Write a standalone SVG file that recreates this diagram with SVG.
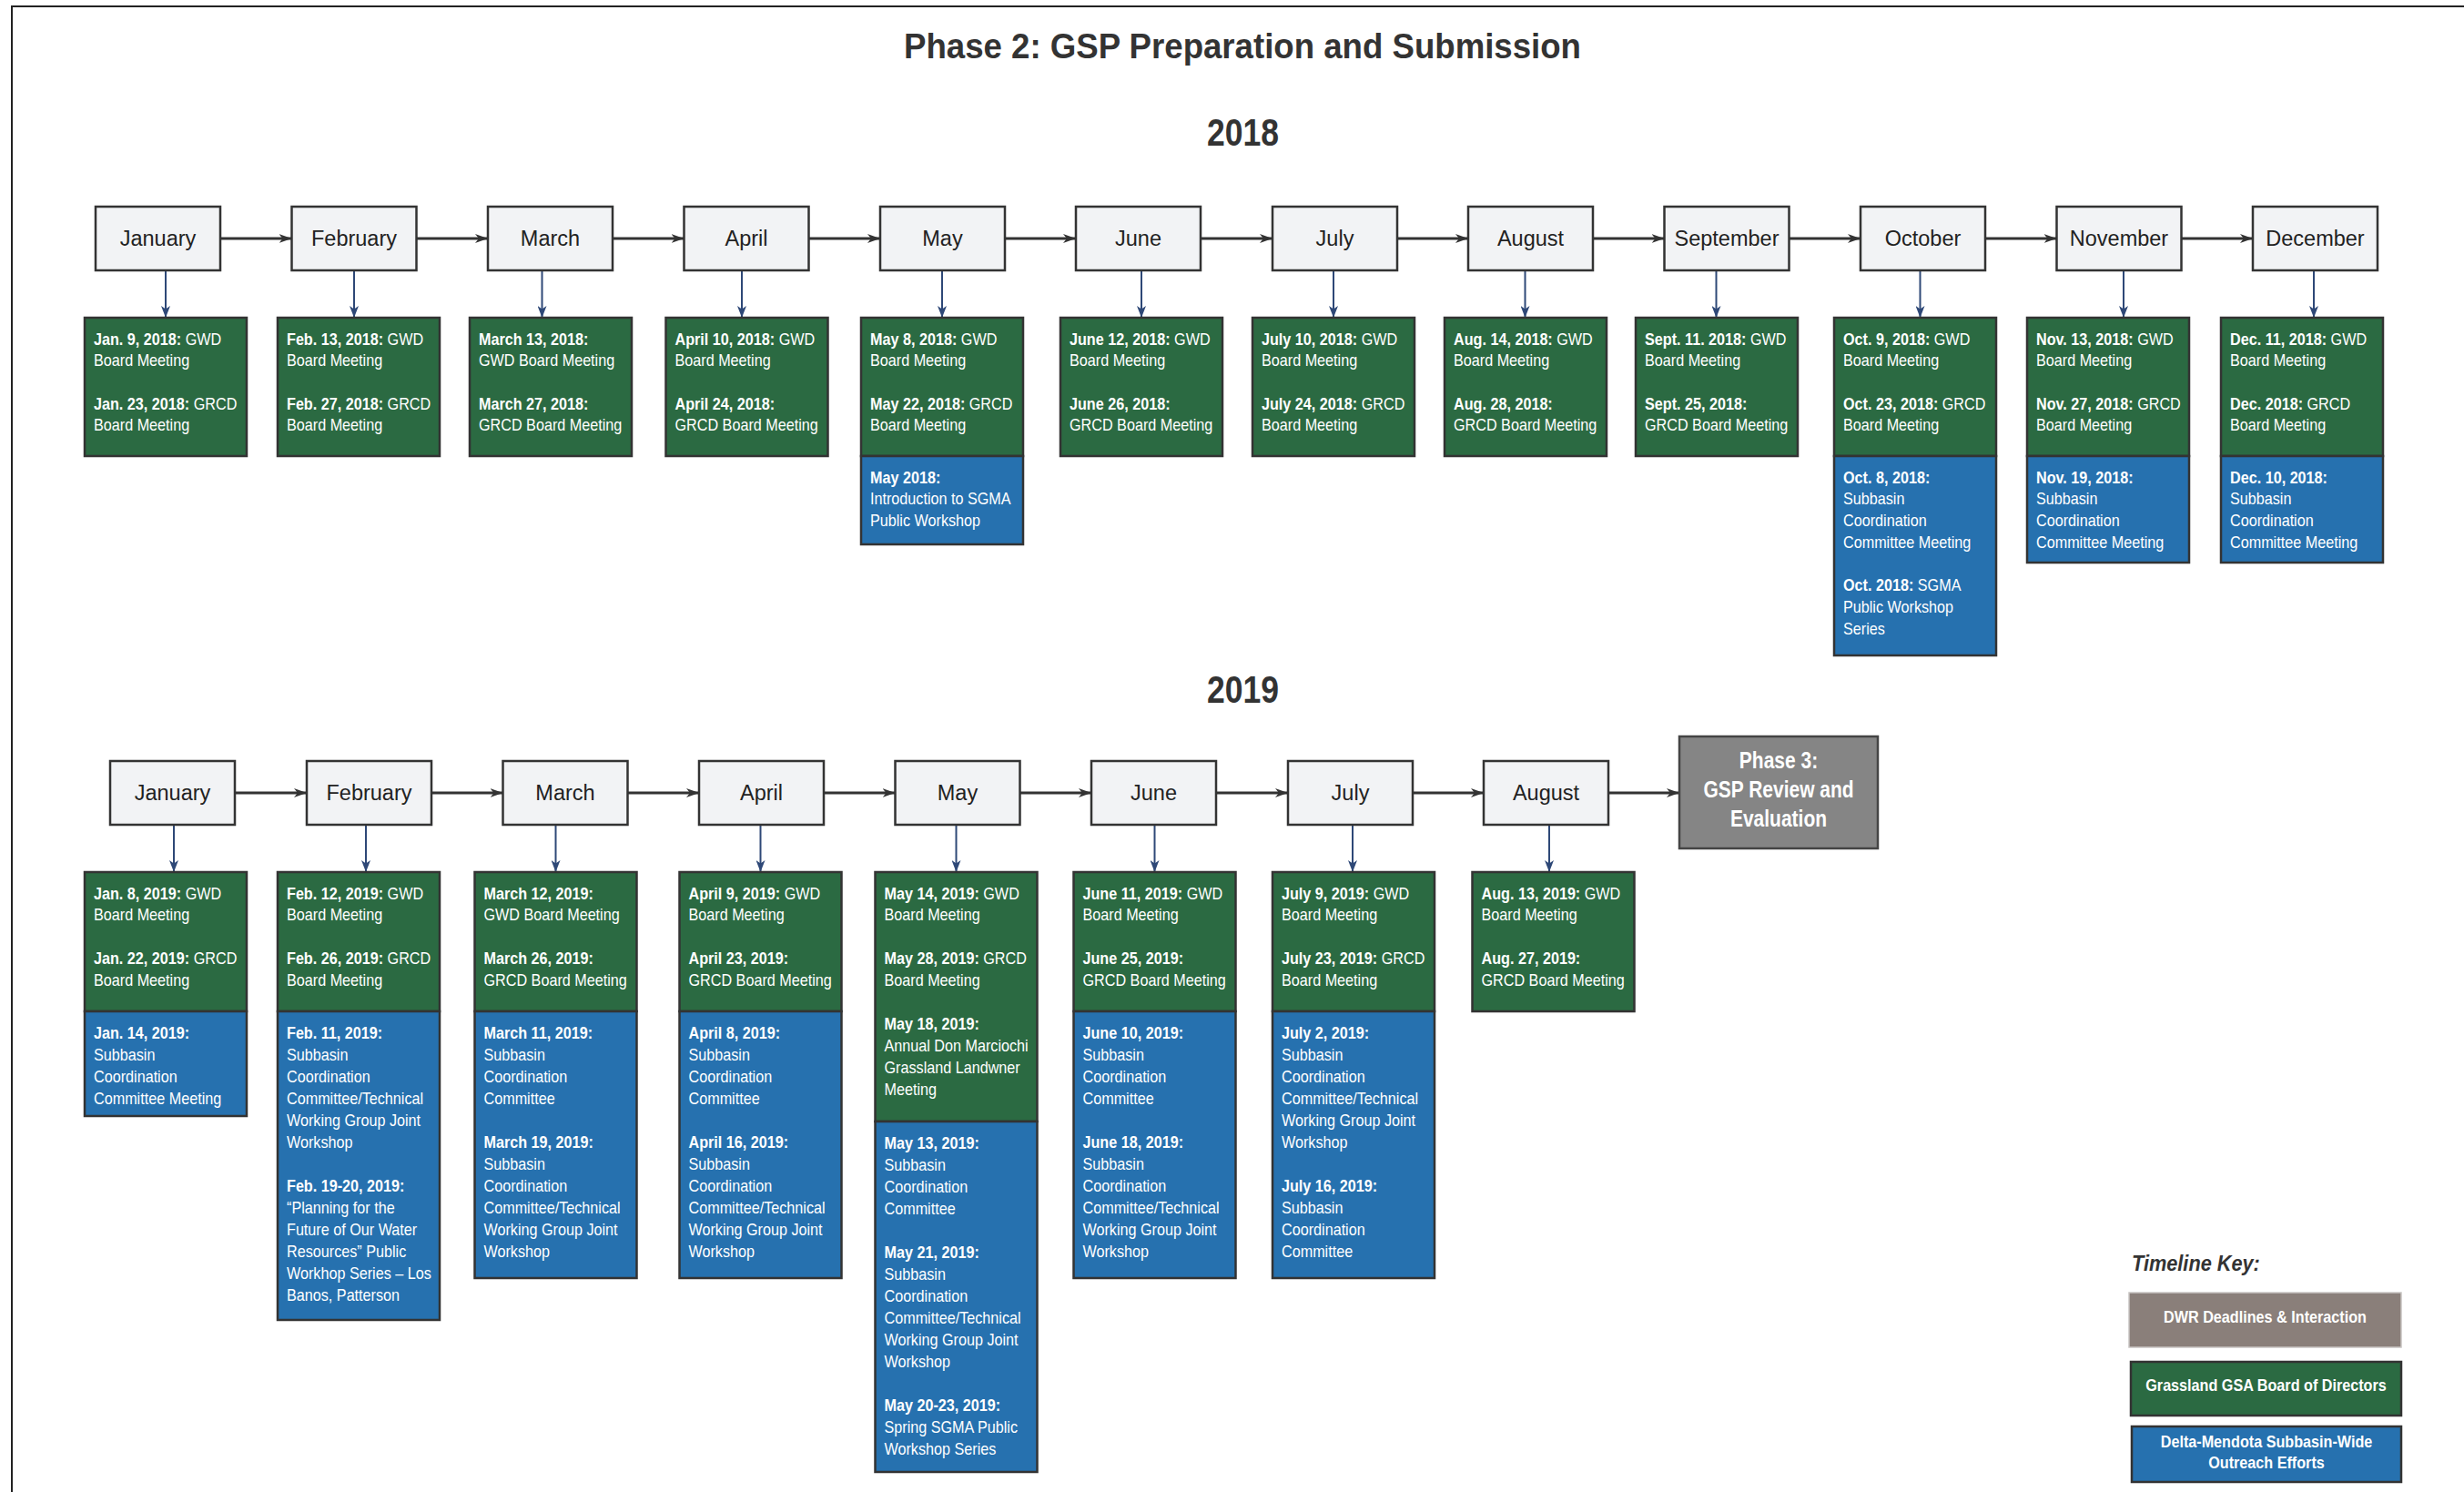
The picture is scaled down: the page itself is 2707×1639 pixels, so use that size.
<svg xmlns="http://www.w3.org/2000/svg" width="2707" height="1639" viewBox="0 0 2707 1639">
<defs>
<style>
.frame{stroke:#222;stroke-width:2;fill:none}
.mon rect{fill:#f2f3f5;stroke:#333;stroke-width:2.5}
.mon text{font-family:"Liberation Sans",Arial,sans-serif;font-size:23.5px;fill:#222;text-anchor:middle}
.g{fill:#2b6a42;stroke:#333;stroke-width:2.5}
.b{fill:#2671af;stroke:#333;stroke-width:2.5}
.bt{font-family:"Liberation Sans",Arial,sans-serif;font-size:18.6px;fill:#fff}
.bd{font-weight:bold}
.hc{stroke:#333;stroke-width:3;fill:none}
.vc{stroke:#2e4877;stroke-width:2;fill:none}
.head{font-family:"Liberation Sans",Arial,sans-serif;font-weight:bold;fill:#333}
.lg{font-family:"Liberation Sans",Arial,sans-serif;font-size:18.6px;font-weight:bold;fill:#fff;text-anchor:middle}
</style>
<marker id="ah" viewBox="0 0 14 10" refX="14" refY="5" markerWidth="14" markerHeight="10" markerUnits="userSpaceOnUse" orient="auto"><path d="M0,0 L14,5 L0,10 L4,5 Z" fill="#333"/></marker>
<marker id="av" viewBox="0 0 13 10" refX="13" refY="5" markerWidth="13" markerHeight="10" markerUnits="userSpaceOnUse" orient="auto"><path d="M0,0 L13,5 L0,10 L3.5,5 Z" fill="#2e4877"/></marker>
</defs>
<rect width="2707" height="1639" fill="#fff"/>
<path class="frame" d="M13,1639 V7 H2707"/>

<text class="head" x="993" y="64" style="font-size:38px" textLength="744" lengthAdjust="spacingAndGlyphs">Phase 2:  GSP Preparation and Submission</text>
<text class="head" x="1326" y="160" style="font-size:42px" textLength="79" lengthAdjust="spacingAndGlyphs">2018</text>
<text class="head" x="1326" y="772" style="font-size:42px" textLength="79" lengthAdjust="spacingAndGlyphs">2019</text>

<g id="connectors">
<line class="hc" x1="242" y1="262" x2="320.5" y2="262" marker-end="url(#ah)"/>
<line class="hc" x1="457.5" y1="262" x2="536" y2="262" marker-end="url(#ah)"/>
<line class="hc" x1="673" y1="262" x2="751.5" y2="262" marker-end="url(#ah)"/>
<line class="hc" x1="888.5" y1="262" x2="967" y2="262" marker-end="url(#ah)"/>
<line class="hc" x1="1104" y1="262" x2="1182" y2="262" marker-end="url(#ah)"/>
<line class="hc" x1="1319" y1="262" x2="1398" y2="262" marker-end="url(#ah)"/>
<line class="hc" x1="1535" y1="262" x2="1613" y2="262" marker-end="url(#ah)"/>
<line class="hc" x1="1750" y1="262" x2="1828.5" y2="262" marker-end="url(#ah)"/>
<line class="hc" x1="1965.5" y1="262" x2="2044" y2="262" marker-end="url(#ah)"/>
<line class="hc" x1="2181" y1="262" x2="2259.5" y2="262" marker-end="url(#ah)"/>
<line class="hc" x1="2396.5" y1="262" x2="2475" y2="262" marker-end="url(#ah)"/>

<line class="vc" x1="182" y1="297" x2="182" y2="349" marker-end="url(#av)"/>
<line class="vc" x1="389" y1="297" x2="389" y2="349" marker-end="url(#av)"/>
<line class="vc" x1="595.5" y1="297" x2="595.5" y2="349" marker-end="url(#av)"/>
<line class="vc" x1="815" y1="297" x2="815" y2="349" marker-end="url(#av)"/>
<line class="vc" x1="1035" y1="297" x2="1035" y2="349" marker-end="url(#av)"/>
<line class="vc" x1="1254" y1="297" x2="1254" y2="349" marker-end="url(#av)"/>
<line class="vc" x1="1465" y1="297" x2="1465" y2="349" marker-end="url(#av)"/>
<line class="vc" x1="1675.5" y1="297" x2="1675.5" y2="349" marker-end="url(#av)"/>
<line class="vc" x1="1885.5" y1="297" x2="1885.5" y2="349" marker-end="url(#av)"/>
<line class="vc" x1="2109.5" y1="297" x2="2109.5" y2="349" marker-end="url(#av)"/>
<line class="vc" x1="2333" y1="297" x2="2333" y2="349" marker-end="url(#av)"/>
<line class="vc" x1="2542" y1="297" x2="2542" y2="349" marker-end="url(#av)"/>

<line class="hc" x1="258" y1="871" x2="337" y2="871" marker-end="url(#ah)"/>
<line class="hc" x1="474" y1="871" x2="552.5" y2="871" marker-end="url(#ah)"/>
<line class="hc" x1="689.5" y1="871" x2="768" y2="871" marker-end="url(#ah)"/>
<line class="hc" x1="905" y1="871" x2="983.5" y2="871" marker-end="url(#ah)"/>
<line class="hc" x1="1120.5" y1="871" x2="1199" y2="871" marker-end="url(#ah)"/>
<line class="hc" x1="1336" y1="871" x2="1415" y2="871" marker-end="url(#ah)"/>
<line class="hc" x1="1552" y1="871" x2="1630" y2="871" marker-end="url(#ah)"/>
<line class="hc" x1="1767" y1="871" x2="1845" y2="871" marker-end="url(#ah)"/>

<line class="vc" x1="191" y1="906" x2="191" y2="958" marker-end="url(#av)"/>
<line class="vc" x1="402" y1="906" x2="402" y2="958" marker-end="url(#av)"/>
<line class="vc" x1="610.5" y1="906" x2="610.5" y2="958" marker-end="url(#av)"/>
<line class="vc" x1="835.5" y1="906" x2="835.5" y2="958" marker-end="url(#av)"/>
<line class="vc" x1="1050.5" y1="906" x2="1050.5" y2="958" marker-end="url(#av)"/>
<line class="vc" x1="1268.5" y1="906" x2="1268.5" y2="958" marker-end="url(#av)"/>
<line class="vc" x1="1486" y1="906" x2="1486" y2="958" marker-end="url(#av)"/>
<line class="vc" x1="1702" y1="906" x2="1702" y2="958" marker-end="url(#av)"/>
</g>

<!-- 2018 month boxes -->
<g id="m2018-jan" class="mon"><rect x="105" y="227" width="137" height="70"/><text x="173.5" y="270">January</text></g>
<g id="m2018-feb" class="mon"><rect x="320.5" y="227" width="137" height="70"/><text x="389" y="270">February</text></g>
<g id="m2018-mar" class="mon"><rect x="536" y="227" width="137" height="70"/><text x="604.5" y="270">March</text></g>
<g id="m2018-apr" class="mon"><rect x="751.5" y="227" width="137" height="70"/><text x="820" y="270">April</text></g>
<g id="m2018-may" class="mon"><rect x="967" y="227" width="137" height="70"/><text x="1035.5" y="270">May</text></g>
<g id="m2018-jun" class="mon"><rect x="1182" y="227" width="137" height="70"/><text x="1250.5" y="270">June</text></g>
<g id="m2018-jul" class="mon"><rect x="1398" y="227" width="137" height="70"/><text x="1466.5" y="270">July</text></g>
<g id="m2018-aug" class="mon"><rect x="1613" y="227" width="137" height="70"/><text x="1681.5" y="270">August</text></g>
<g id="m2018-sep" class="mon"><rect x="1828.5" y="227" width="137" height="70"/><text x="1897" y="270">September</text></g>
<g id="m2018-oct" class="mon"><rect x="2044" y="227" width="137" height="70"/><text x="2112.5" y="270">October</text></g>
<g id="m2018-nov" class="mon"><rect x="2259.5" y="227" width="137" height="70"/><text x="2328" y="270">November</text></g>
<g id="m2018-dec" class="mon"><rect x="2475" y="227" width="137" height="70"/><text x="2543.5" y="270">December</text></g>

<!-- 2018 event boxes -->
<g id="e2018-jan"><rect class="g" x="93" y="349" width="178" height="152"/>
<text class="bt" transform="translate(103 378.5) scale(0.87 1)"><tspan x="0" y="0"><tspan class="bd">Jan. 9, 2018:</tspan> GWD</tspan><tspan x="0" y="23.75">Board Meeting</tspan><tspan x="0" y="71.25"><tspan class="bd">Jan. 23, 2018:</tspan> GRCD</tspan><tspan x="0" y="95">Board Meeting</tspan></text></g>
<g id="e2018-feb"><rect class="g" x="305" y="349" width="178" height="152"/>
<text class="bt" transform="translate(315 378.5) scale(0.87 1)"><tspan x="0" y="0"><tspan class="bd">Feb. 13, 2018:</tspan> GWD</tspan><tspan x="0" y="23.75">Board Meeting</tspan><tspan x="0" y="71.25"><tspan class="bd">Feb. 27, 2018:</tspan> GRCD</tspan><tspan x="0" y="95">Board Meeting</tspan></text></g>
<g id="e2018-mar"><rect class="g" x="516" y="349" width="178" height="152"/>
<text class="bt" transform="translate(526 378.5) scale(0.87 1)"><tspan x="0" y="0" class="bd">March 13, 2018:</tspan><tspan x="0" y="23.75">GWD Board Meeting</tspan><tspan x="0" y="71.25" class="bd">March 27, 2018:</tspan><tspan x="0" y="95">GRCD Board Meeting</tspan></text></g>
<g id="e2018-apr"><rect class="g" x="731.5" y="349" width="178" height="152"/>
<text class="bt" transform="translate(741.5 378.5) scale(0.87 1)"><tspan x="0" y="0"><tspan class="bd">April 10, 2018:</tspan> GWD</tspan><tspan x="0" y="23.75">Board Meeting</tspan><tspan x="0" y="71.25" class="bd">April 24, 2018:</tspan><tspan x="0" y="95">GRCD Board Meeting</tspan></text></g>
<g id="e2018-may"><rect class="g" x="946" y="349" width="178" height="152"/>
<text class="bt" transform="translate(956 378.5) scale(0.87 1)"><tspan x="0" y="0"><tspan class="bd">May 8, 2018:</tspan> GWD</tspan><tspan x="0" y="23.75">Board Meeting</tspan><tspan x="0" y="71.25"><tspan class="bd">May 22, 2018:</tspan> GRCD</tspan><tspan x="0" y="95">Board Meeting</tspan></text>
<rect class="b" x="946" y="501" width="178" height="97"/>
<text class="bt" transform="translate(956 530.5) scale(0.87 1)"><tspan x="0" y="0" class="bd">May 2018:</tspan><tspan x="0" y="23.75">Introduction to SGMA</tspan><tspan x="0" y="47.5">Public Workshop</tspan></text></g>
<g id="e2018-jun"><rect class="g" x="1165" y="349" width="178" height="152"/>
<text class="bt" transform="translate(1175 378.5) scale(0.87 1)"><tspan x="0" y="0"><tspan class="bd">June 12, 2018:</tspan> GWD</tspan><tspan x="0" y="23.75">Board Meeting</tspan><tspan x="0" y="71.25" class="bd">June 26, 2018:</tspan><tspan x="0" y="95">GRCD Board Meeting</tspan></text></g>
<g id="e2018-jul"><rect class="g" x="1376" y="349" width="178" height="152"/>
<text class="bt" transform="translate(1386 378.5) scale(0.87 1)"><tspan x="0" y="0"><tspan class="bd">July 10, 2018:</tspan> GWD</tspan><tspan x="0" y="23.75">Board Meeting</tspan><tspan x="0" y="71.25"><tspan class="bd">July 24, 2018:</tspan> GRCD</tspan><tspan x="0" y="95">Board Meeting</tspan></text></g>
<g id="e2018-aug"><rect class="g" x="1587" y="349" width="178" height="152"/>
<text class="bt" transform="translate(1597 378.5) scale(0.87 1)"><tspan x="0" y="0"><tspan class="bd">Aug. 14, 2018:</tspan> GWD</tspan><tspan x="0" y="23.75">Board Meeting</tspan><tspan x="0" y="71.25" class="bd">Aug. 28, 2018:</tspan><tspan x="0" y="95">GRCD Board Meeting</tspan></text></g>
<g id="e2018-sep"><rect class="g" x="1797" y="349" width="178" height="152"/>
<text class="bt" transform="translate(1807 378.5) scale(0.87 1)"><tspan x="0" y="0"><tspan class="bd">Sept. 11. 2018:</tspan> GWD</tspan><tspan x="0" y="23.75">Board Meeting</tspan><tspan x="0" y="71.25" class="bd">Sept. 25, 2018:</tspan><tspan x="0" y="95">GRCD Board Meeting</tspan></text></g>
<g id="e2018-oct"><rect class="g" x="2015" y="349" width="178" height="152"/>
<text class="bt" transform="translate(2025 378.5) scale(0.87 1)"><tspan x="0" y="0"><tspan class="bd">Oct. 9, 2018:</tspan> GWD</tspan><tspan x="0" y="23.75">Board Meeting</tspan><tspan x="0" y="71.25"><tspan class="bd">Oct. 23, 2018:</tspan> GRCD</tspan><tspan x="0" y="95">Board Meeting</tspan></text>
<rect class="b" x="2015" y="501" width="178" height="219"/>
<text class="bt" transform="translate(2025 530.5) scale(0.87 1)"><tspan x="0" y="0" class="bd">Oct. 8, 2018:</tspan><tspan x="0" y="23.75">Subbasin</tspan><tspan x="0" y="47.5">Coordination</tspan><tspan x="0" y="71.25">Committee Meeting</tspan><tspan x="0" y="118.75"><tspan class="bd">Oct. 2018:</tspan> SGMA</tspan><tspan x="0" y="142.5">Public Workshop</tspan><tspan x="0" y="166.25">Series</tspan></text></g>
<g id="e2018-nov"><rect class="g" x="2227" y="349" width="178" height="152"/>
<text class="bt" transform="translate(2237 378.5) scale(0.87 1)"><tspan x="0" y="0"><tspan class="bd">Nov. 13, 2018:</tspan> GWD</tspan><tspan x="0" y="23.75">Board Meeting</tspan><tspan x="0" y="71.25"><tspan class="bd">Nov. 27, 2018:</tspan> GRCD</tspan><tspan x="0" y="95">Board Meeting</tspan></text>
<rect class="b" x="2227" y="501" width="178" height="117"/>
<text class="bt" transform="translate(2237 530.5) scale(0.87 1)"><tspan x="0" y="0" class="bd">Nov. 19, 2018:</tspan><tspan x="0" y="23.75">Subbasin</tspan><tspan x="0" y="47.5">Coordination</tspan><tspan x="0" y="71.25">Committee Meeting</tspan></text></g>
<g id="e2018-dec"><rect class="g" x="2440" y="349" width="178" height="152"/>
<text class="bt" transform="translate(2450 378.5) scale(0.87 1)"><tspan x="0" y="0"><tspan class="bd">Dec. 11, 2018:</tspan> GWD</tspan><tspan x="0" y="23.75">Board Meeting</tspan><tspan x="0" y="71.25"><tspan class="bd">Dec. 2018:</tspan> GRCD</tspan><tspan x="0" y="95">Board Meeting</tspan></text>
<rect class="b" x="2440" y="501" width="178" height="117"/>
<text class="bt" transform="translate(2450 530.5) scale(0.87 1)"><tspan x="0" y="0" class="bd">Dec. 10, 2018:</tspan><tspan x="0" y="23.75">Subbasin</tspan><tspan x="0" y="47.5">Coordination</tspan><tspan x="0" y="71.25">Committee Meeting</tspan></text></g>

<!-- 2019 month boxes -->
<g id="m2019-jan" class="mon"><rect x="121" y="836" width="137" height="70"/><text x="189.5" y="879">January</text></g>
<g id="m2019-feb" class="mon"><rect x="337" y="836" width="137" height="70"/><text x="405.5" y="879">February</text></g>
<g id="m2019-mar" class="mon"><rect x="552.5" y="836" width="137" height="70"/><text x="621" y="879">March</text></g>
<g id="m2019-apr" class="mon"><rect x="768" y="836" width="137" height="70"/><text x="836.5" y="879">April</text></g>
<g id="m2019-may" class="mon"><rect x="983.5" y="836" width="137" height="70"/><text x="1052" y="879">May</text></g>
<g id="m2019-jun" class="mon"><rect x="1199" y="836" width="137" height="70"/><text x="1267.5" y="879">June</text></g>
<g id="m2019-jul" class="mon"><rect x="1415" y="836" width="137" height="70"/><text x="1483.5" y="879">July</text></g>
<g id="m2019-aug" class="mon"><rect x="1630" y="836" width="137" height="70"/><text x="1698.5" y="879">August</text></g>
<g id="phase3"><rect x="1845" y="809" width="218" height="123" fill="#858585" stroke="#444" stroke-width="2.5"/>
<text class="lg" style="font-size:25.6px" transform="translate(1954 844) scale(0.82 1)"><tspan x="0" y="0">Phase 3:</tspan><tspan x="0" y="32">GSP Review and</tspan><tspan x="0" y="64">Evaluation</tspan></text></g>

<!-- 2019 event boxes -->
<g id="e2019-jan"><rect class="g" x="93" y="958" width="178" height="153"/>
<text class="bt" transform="translate(103 987.5) scale(0.87 1)"><tspan x="0" y="0"><tspan class="bd">Jan. 8, 2019:</tspan> GWD</tspan><tspan x="0" y="24">Board Meeting</tspan><tspan x="0" y="72"><tspan class="bd">Jan. 22, 2019:</tspan> GRCD</tspan><tspan x="0" y="96">Board Meeting</tspan></text>
<rect class="b" x="93" y="1111" width="178" height="115"/>
<text class="bt" transform="translate(103 1141) scale(0.87 1)"><tspan x="0" y="0" class="bd">Jan. 14, 2019:</tspan><tspan x="0" y="24">Subbasin</tspan><tspan x="0" y="48">Coordination</tspan><tspan x="0" y="72">Committee Meeting</tspan></text></g>
<g id="e2019-feb"><rect class="g" x="305" y="958" width="178" height="153"/>
<text class="bt" transform="translate(315 987.5) scale(0.87 1)"><tspan x="0" y="0"><tspan class="bd">Feb. 12, 2019:</tspan> GWD</tspan><tspan x="0" y="24">Board Meeting</tspan><tspan x="0" y="72"><tspan class="bd">Feb. 26, 2019:</tspan> GRCD</tspan><tspan x="0" y="96">Board Meeting</tspan></text>
<rect class="b" x="305" y="1111" width="178" height="339"/>
<text class="bt" transform="translate(315 1141) scale(0.87 1)"><tspan x="0" y="0" class="bd">Feb. 11, 2019:</tspan><tspan x="0" y="24">Subbasin</tspan><tspan x="0" y="48">Coordination</tspan><tspan x="0" y="72">Committee/Technical</tspan><tspan x="0" y="96">Working Group Joint</tspan><tspan x="0" y="120">Workshop</tspan><tspan x="0" y="168" class="bd">Feb. 19-20, 2019:</tspan><tspan x="0" y="192">“Planning for the</tspan><tspan x="0" y="216">Future of Our Water</tspan><tspan x="0" y="240">Resources” Public</tspan><tspan x="0" y="264">Workhop Series – Los</tspan><tspan x="0" y="288">Banos, Patterson</tspan></text></g>
<g id="e2019-mar"><rect class="g" x="521.5" y="958" width="178" height="153"/>
<text class="bt" transform="translate(531.5 987.5) scale(0.87 1)"><tspan x="0" y="0" class="bd">March 12, 2019:</tspan><tspan x="0" y="24">GWD Board Meeting</tspan><tspan x="0" y="72" class="bd">March 26, 2019:</tspan><tspan x="0" y="96">GRCD Board Meeting</tspan></text>
<rect class="b" x="521.5" y="1111" width="178" height="293"/>
<text class="bt" transform="translate(531.5 1141) scale(0.87 1)"><tspan x="0" y="0" class="bd">March 11, 2019:</tspan><tspan x="0" y="24">Subbasin</tspan><tspan x="0" y="48">Coordination</tspan><tspan x="0" y="72">Committee</tspan><tspan x="0" y="120" class="bd">March 19, 2019:</tspan><tspan x="0" y="144">Subbasin</tspan><tspan x="0" y="168">Coordination</tspan><tspan x="0" y="192">Committee/Technical</tspan><tspan x="0" y="216">Working Group Joint</tspan><tspan x="0" y="240">Workshop</tspan></text></g>
<g id="e2019-apr"><rect class="g" x="746.5" y="958" width="178" height="153"/>
<text class="bt" transform="translate(756.5 987.5) scale(0.87 1)"><tspan x="0" y="0"><tspan class="bd">April 9, 2019:</tspan> GWD</tspan><tspan x="0" y="24">Board Meeting</tspan><tspan x="0" y="72" class="bd">April 23, 2019:</tspan><tspan x="0" y="96">GRCD Board Meeting</tspan></text>
<rect class="b" x="746.5" y="1111" width="178" height="293"/>
<text class="bt" transform="translate(756.5 1141) scale(0.87 1)"><tspan x="0" y="0" class="bd">April 8, 2019:</tspan><tspan x="0" y="24">Subbasin</tspan><tspan x="0" y="48">Coordination</tspan><tspan x="0" y="72">Committee</tspan><tspan x="0" y="120" class="bd">April 16, 2019:</tspan><tspan x="0" y="144">Subbasin</tspan><tspan x="0" y="168">Coordination</tspan><tspan x="0" y="192">Committee/Technical</tspan><tspan x="0" y="216">Working Group Joint</tspan><tspan x="0" y="240">Workshop</tspan></text></g>
<g id="e2019-may"><rect class="g" x="961.5" y="958" width="178" height="274"/>
<text class="bt" transform="translate(971.5 987.5) scale(0.87 1)"><tspan x="0" y="0"><tspan class="bd">May 14, 2019:</tspan> GWD</tspan><tspan x="0" y="24">Board Meeting</tspan><tspan x="0" y="72"><tspan class="bd">May 28, 2019:</tspan> GRCD</tspan><tspan x="0" y="96">Board Meeting</tspan><tspan x="0" y="144" class="bd">May 18, 2019:</tspan><tspan x="0" y="168">Annual Don Marciochi</tspan><tspan x="0" y="192">Grassland Landwner</tspan><tspan x="0" y="216">Meeting</tspan></text>
<rect class="b" x="961.5" y="1232" width="178" height="385"/>
<text class="bt" transform="translate(971.5 1262) scale(0.87 1)"><tspan x="0" y="0" class="bd">May 13, 2019:</tspan><tspan x="0" y="24">Subbasin</tspan><tspan x="0" y="48">Coordination</tspan><tspan x="0" y="72">Committee</tspan><tspan x="0" y="120" class="bd">May 21, 2019:</tspan><tspan x="0" y="144">Subbasin</tspan><tspan x="0" y="168">Coordination</tspan><tspan x="0" y="192">Committee/Technical</tspan><tspan x="0" y="216">Working Group Joint</tspan><tspan x="0" y="240">Workshop</tspan><tspan x="0" y="288" class="bd">May 20-23, 2019:</tspan><tspan x="0" y="312">Spring SGMA Public</tspan><tspan x="0" y="336">Workshop Series</tspan></text></g>
<g id="e2019-jun"><rect class="g" x="1179.5" y="958" width="178" height="153"/>
<text class="bt" transform="translate(1189.5 987.5) scale(0.87 1)"><tspan x="0" y="0"><tspan class="bd">June 11, 2019:</tspan> GWD</tspan><tspan x="0" y="24">Board Meeting</tspan><tspan x="0" y="72" class="bd">June 25, 2019:</tspan><tspan x="0" y="96">GRCD Board Meeting</tspan></text>
<rect class="b" x="1179.5" y="1111" width="178" height="293"/>
<text class="bt" transform="translate(1189.5 1141) scale(0.87 1)"><tspan x="0" y="0" class="bd">June 10, 2019:</tspan><tspan x="0" y="24">Subbasin</tspan><tspan x="0" y="48">Coordination</tspan><tspan x="0" y="72">Committee</tspan><tspan x="0" y="120" class="bd">June 18, 2019:</tspan><tspan x="0" y="144">Subbasin</tspan><tspan x="0" y="168">Coordination</tspan><tspan x="0" y="192">Committee/Technical</tspan><tspan x="0" y="216">Working Group Joint</tspan><tspan x="0" y="240">Workshop</tspan></text></g>
<g id="e2019-jul"><rect class="g" x="1398" y="958" width="178" height="153"/>
<text class="bt" transform="translate(1408 987.5) scale(0.87 1)"><tspan x="0" y="0"><tspan class="bd">July 9, 2019:</tspan> GWD</tspan><tspan x="0" y="24">Board Meeting</tspan><tspan x="0" y="72"><tspan class="bd">July 23, 2019:</tspan> GRCD</tspan><tspan x="0" y="96">Board Meeting</tspan></text>
<rect class="b" x="1398" y="1111" width="178" height="293"/>
<text class="bt" transform="translate(1408 1141) scale(0.87 1)"><tspan x="0" y="0" class="bd">July 2, 2019:</tspan><tspan x="0" y="24">Subbasin</tspan><tspan x="0" y="48">Coordination</tspan><tspan x="0" y="72">Committee/Technical</tspan><tspan x="0" y="96">Working Group Joint</tspan><tspan x="0" y="120">Workshop</tspan><tspan x="0" y="168" class="bd">July 16, 2019:</tspan><tspan x="0" y="192">Subbasin</tspan><tspan x="0" y="216">Coordination</tspan><tspan x="0" y="240">Committee</tspan></text></g>
<g id="e2019-aug"><rect class="g" x="1617.5" y="958" width="178" height="153"/>
<text class="bt" transform="translate(1627.5 987.5) scale(0.87 1)"><tspan x="0" y="0"><tspan class="bd">Aug. 13, 2019:</tspan> GWD</tspan><tspan x="0" y="24">Board Meeting</tspan><tspan x="0" y="72" class="bd">Aug. 27, 2019:</tspan><tspan x="0" y="96">GRCD Board Meeting</tspan></text></g>

<!-- Legend -->
<g id="legend">
<text class="head" font-style="italic" style="font-size:24.7px" transform="translate(2342 1396) scale(0.88 1)" x="0" y="0">Timeline Key:</text>
<rect x="2339" y="1420" width="299" height="60" fill="#8a7f7a" stroke="#c8c4c2" stroke-width="1.5"/>
<text class="lg" transform="translate(2488.5 1452.5) scale(0.87 1)" x="0" y="0">DWR Deadlines &amp; Interaction</text>
<rect class="g" x="2341" y="1496" width="297" height="59" stroke-width="3"/>
<text class="lg" transform="translate(2489.5 1528) scale(0.87 1)" x="0" y="0">Grassland GSA Board of Directors</text>
<rect class="b" x="2342" y="1567" width="296" height="61" stroke-width="3"/>
<text class="lg" transform="translate(2490 1590) scale(0.87 1)"><tspan x="0" y="0">Delta-Mendota Subbasin-Wide</tspan><tspan x="0" y="23.5">Outreach Efforts</tspan></text>
</g>
</svg>
